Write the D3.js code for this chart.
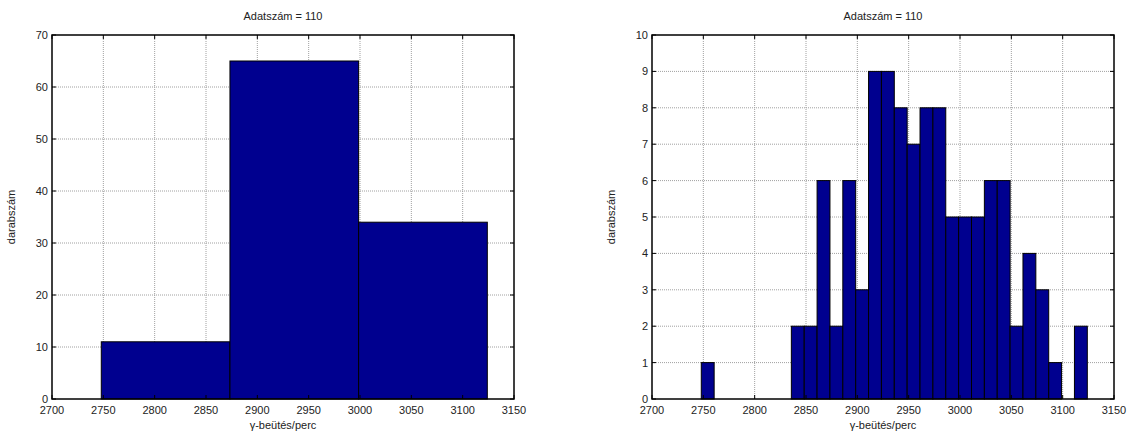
<!DOCTYPE html>
<html>
<head>
<meta charset="utf-8">
<script src="https://cdn.jsdelivr.net/npm/d3@7"></script>
<style>
  body { margin: 0; background: #fff; }
  text { font-family: "Liberation Sans", Arial, sans-serif; font-size: 11px; fill: #222; }
</style>
</head>
<body>
<svg width="1136" height="439"></svg>
<script>
// histogram of the same 110 readings, 3 bins and 30 bins
let dataMin = 2748,
    dataMax = 3124,
    counts3 = [11, 65, 34],
    counts30 = [1, 0, 0, 0, 0, 0, 0, 2, 2, 6, 2, 6, 3, 9, 9, 8, 7, 8, 8, 5, 5, 5, 6, 6, 2, 4, 3, 1, 0, 2],
    xTicks = [2700, 2750, 2800, 2850, 2900, 2950, 3000, 3050, 3100, 3150],
    yTicksLeft = [0, 10, 20, 30, 40, 50, 60, 70],
    yTicksRight = [0, 1, 2, 3, 4, 5, 6, 7, 8, 9, 10],
    titleText = "Adatszám = 110",
    xLabel = "γ-beütés/perc",
    yLabel = "darabszám";

let svg = d3.select("svg");

drawHist(52, counts3, yTicksLeft);
drawHist(652, counts30, yTicksRight);

function drawHist(left, counts, yTicks) {
  let top = 35, bottom = 399, w = 462, tick = 4;
  let x = d3.scaleLinear().domain([xTicks[0], xTicks[xTicks.length - 1]]).range([left, left + w]),
      y = d3.scaleLinear().domain([yTicks[0], yTicks[yTicks.length - 1]]).range([bottom, top]);
  let step = (dataMax - dataMin) / counts.length;
  let bins = counts.map((c, i) => ({x0: dataMin + i * step, x1: dataMin + (i + 1) * step, n: c}));

  let g = svg.append("g");

  // dotted grid
  g.append("g").selectAll("line").data(xTicks.slice(1, -1)).join("line")
    .attr("x1", d => x(d)).attr("x2", d => x(d)).attr("y1", top).attr("y2", bottom)
    .attr("stroke", "#a0a0a0").attr("stroke-dasharray", "1,1");
  g.append("g").selectAll("line").data(yTicks.slice(1, -1)).join("line")
    .attr("y1", d => y(d)).attr("y2", d => y(d)).attr("x1", left).attr("x2", left + w)
    .attr("stroke", "#a0a0a0").attr("stroke-dasharray", "1,1");

  // bars (zero bins too, they show as a line on the axis)
  g.append("g").selectAll("rect").data(bins).join("rect")
    .attr("x", d => x(d.x0)).attr("width", d => x(d.x1) - x(d.x0))
    .attr("y", d => y(d.n)).attr("height", d => y(0) - y(d.n))
    .attr("fill", "#00008f").attr("stroke", "#000").attr("stroke-width", 1);

  // ticks on all four sides, pointing inwards
  let ax = g.append("g").attr("stroke", "#000");
  xTicks.forEach(t => {
    ax.append("line").attr("x1", x(t)).attr("x2", x(t)).attr("y1", bottom).attr("y2", bottom - tick);
    ax.append("line").attr("x1", x(t)).attr("x2", x(t)).attr("y1", top).attr("y2", top + tick);
  });
  yTicks.forEach(t => {
    ax.append("line").attr("y1", y(t)).attr("y2", y(t)).attr("x1", left).attr("x2", left + tick);
    ax.append("line").attr("y1", y(t)).attr("y2", y(t)).attr("x1", left + w).attr("x2", left + w - tick);
  });

  g.append("rect").attr("x", left).attr("y", top).attr("width", w).attr("height", bottom - top)
    .attr("fill", "none").attr("stroke", "#000").attr("stroke-width", 1.5);

  // tick labels
  g.append("g").selectAll("text").data(xTicks).join("text")
    .attr("x", d => x(d)).attr("y", bottom + 15).attr("text-anchor", "middle").text(d => d);
  g.append("g").selectAll("text").data(yTicks).join("text")
    .attr("x", left - 4).attr("y", d => y(d) + 4).attr("text-anchor", "end").text(d => d);

  g.append("text").attr("x", left + w / 2).attr("y", 20).attr("text-anchor", "middle").text(titleText);
  g.append("text").attr("x", left + w / 2).attr("y", 429).attr("text-anchor", "middle").text(xLabel);
  g.append("text").attr("transform", "translate(" + (left - 37) + "," + ((top + bottom) / 2) + ") rotate(-90)")
    .attr("text-anchor", "middle").text(yLabel);
}
</script>
</body>
</html>
